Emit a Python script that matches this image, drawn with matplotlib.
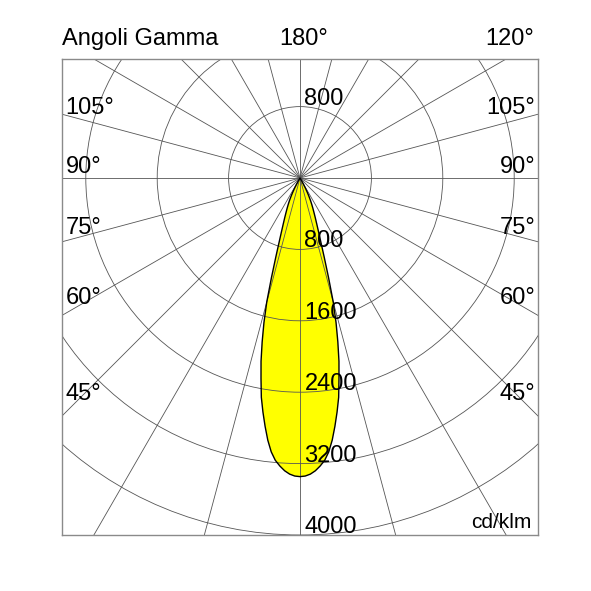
import numpy as np
import matplotlib
matplotlib.use('Agg')
import matplotlib.pyplot as plt
from matplotlib.patches import Circle, Polygon

plt.rcParams['font.family'] = ['Liberation Sans', 'DejaVu Sans']

# dati (cd/klm)
radii = [800, 1600, 2400, 3200, 4000]
radial_labels = ['800', '1600', '2400', '3200', '4000']
spoke_angles = np.arange(0, 360, 15)

# curva fotometrica, simmetrica rispetto al nadir
gamma = [0, 1, 2, 3, 4, 5, 6, 7, 8, 9, 10, 11, 12, 13, 14, 15, 16, 17,
         18, 19, 20, 21, 22, 23, 24, 25, 26, 27, 28, 29, 30, 32, 34]
intensity = [3346, 3340, 3320, 3285, 3235, 3175, 3085, 2960, 2810, 2655, 2495,
             2290, 2100, 1885, 1670, 1440, 1160, 930, 760, 640, 550, 480, 420,
             370, 325, 280, 230, 180, 130, 80, 40, 0, 0]

left_labels = ['105°', '90°', '75°', '60°', '45°']
left_baselines = [113.5, 173, 234.5, 304.5, 400]

W = 591
fig = plt.figure(figsize=(5.91, 5.91), dpi=100)
ax = fig.add_axes([62 / W, (W - 535) / W, 476 / W, 476 / W])
ax.set_xlim(-4000 * 2 / 3, 4000 * 2 / 3)
ax.set_ylim(-4000, 4000 / 3)
ax.set_aspect('equal')
ax.set_xticks([])
ax.set_yticks([])
for s in ax.spines.values():
    s.set_color('#8a8a8a')
    s.set_linewidth(1.0)

# lobo (gamma 0 = verso il basso)
g_r = np.radians(gamma)
I = np.array(intensity)
xr = I * np.sin(g_r)
yr = -I * np.cos(g_r)
xs = np.concatenate([-xr[::-1], xr[1:]])
ys = np.concatenate([yr[::-1], yr[1:]])
pts = np.column_stack([xs, ys])
ax.add_patch(Polygon(pts, closed=True, facecolor='#ffff00', edgecolor='none', zorder=1))

# griglia
gc = '#555555'
for r in radii:
    ax.add_patch(Circle((0, 0), r, fill=False, edgecolor=gc, linewidth=0.6, zorder=2))
for a in spoke_angles:
    t = np.radians(a)
    ax.plot([0, 6000 * np.sin(t)], [0, -6000 * np.cos(t)], color=gc, linewidth=0.6, zorder=2)

ax.add_patch(Polygon(pts, closed=True, facecolor='none', edgecolor='black',
                     linewidth=1.0, joinstyle='round', zorder=3))

# etichette radiali
fs = 17
for r, lab in zip(radii, radial_labels):
    ax.text(50, -r + 22, lab, fontsize=fs, ha='left', va='baseline', zorder=5)
ax.text(50, 800 + 18, '800', fontsize=fs, ha='left', va='baseline', zorder=5)


def fpx(x, y):
    return x / W, 1 - y / W


fig.text(*fpx(61.5, 45), 'Angoli Gamma', fontsize=fs, ha='left', va='baseline')
fig.text(*fpx(279, 45), '180°', fontsize=fs, ha='left', va='baseline')
fig.text(*fpx(534, 45), '120°', fontsize=fs, ha='right', va='baseline')
for lab, yb in zip(left_labels, left_baselines):
    fig.text(*fpx(65.5, yb), lab, fontsize=fs, ha='left', va='baseline')
    fig.text(*fpx(535.5, yb), lab, fontsize=fs, ha='right', va='baseline')
fig.text(*fpx(532, 528), 'cd/klm', fontsize=15, ha='right', va='baseline')

fig.savefig('out.png', dpi=100, facecolor='white')
